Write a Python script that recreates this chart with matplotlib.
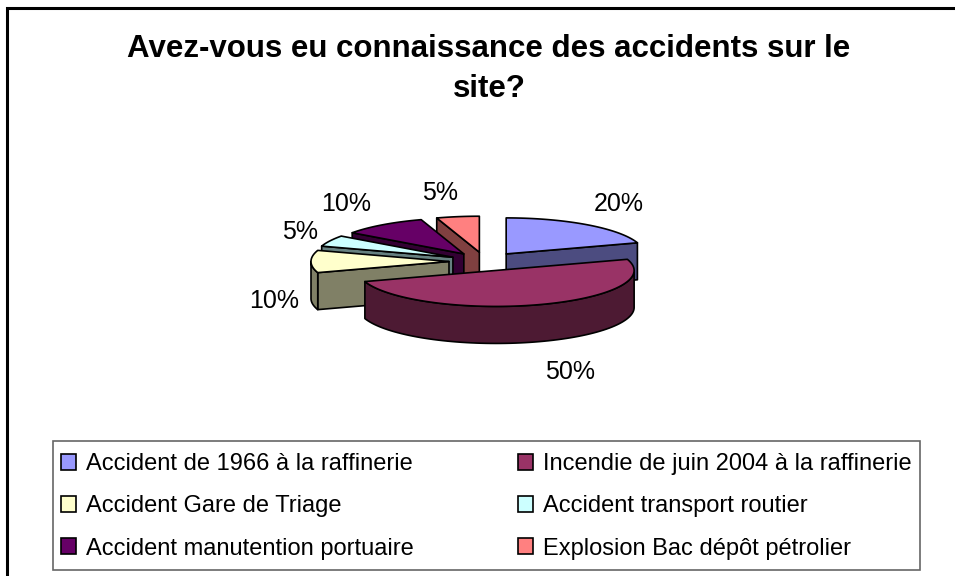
import numpy as np
import matplotlib.pyplot as plt
from matplotlib.patches import Polygon, Patch, Rectangle

plt.rcParams['font.family'] = ['Liberation Sans', 'DejaVu Sans']

title = "Avez-vous eu connaissance des accidents sur le\nsite?"
labels = [
    "Accident de 1966 à la raffinerie",
    "Incendie de juin 2004 à la raffinerie",
    "Accident Gare de Triage",
    "Accident transport routier",
    "Accident manutention portuaire",
    "Explosion Bac dépôt pétrolier",
]
values = [20, 50, 10, 5, 10, 5]
top_colors = ['#9999FF', '#993366', '#FFFFCC', '#CCFFFF', '#660066', '#FF8080']
side_colors = ['#4C4C80', '#4D1A33', '#808066', '#668080', '#330033', '#804040']

# pie geometry in pixels
CX, CY = 485, 261.5
RX, RY = 138, 36
EXPLODE = 36
DEPTH = 37
GAP = 12


def arc(cx, cy, a0, a1, n=80):
    t = np.radians(np.linspace(a0, a1, n))
    return np.column_stack([cx + RX * np.cos(t), cy - RY * np.sin(t)])


def edge(cx, cy, ang):
    t = np.radians(ang)
    return cx + RX * np.cos(t), cy - RY * np.sin(t)


fig = plt.figure(figsize=(9.55, 5.76), dpi=100)
ax = fig.add_axes([0, 0, 1, 1])
ax.set_xlim(0, 955)
ax.set_ylim(576, 0)
ax.axis('off')

fracs = np.array(values) / sum(values)
ends = 90 - 360 * np.cumsum(fracs)
starts = ends + 360 * fracs
mids = (starts + ends) / 2
order = np.argsort(-np.sin(np.radians(mids)), kind='stable')

for z, i in enumerate(order):
    t1, t2, m = starts[i], ends[i], mids[i]
    c, s = np.cos(np.radians(m)), np.sin(np.radians(m))
    px, py = CX + EXPLODE * c, CY - EXPLODE * RY / RX * s

    faces = []
    for ang, vis in ((t1, np.cos(np.radians(t1)) < -1e-6),
                     (t2, np.cos(np.radians(t2)) > 1e-6)):
        if vis:
            ex, ey = edge(px, py, ang)
            faces.append([(px, py), (ex, ey), (ex, ey + DEPTH), (px, py + DEPTH)])
    lo, hi = max(t2, -180), min(t1, 0)
    if hi > lo:
        top = arc(px, py, lo, hi)
        faces.append(np.vstack([top, top[::-1] + [0, DEPTH]]))
    for f in faces:
        ax.add_patch(Polygon(f, closed=True, fc=side_colors[i], ec='black',
                             lw=1.2, joinstyle='round', zorder=2 + 2 * z))
    top = np.vstack([[px, py], arc(px, py, t2, t1)])
    ax.add_patch(Polygon(top, closed=True, fc=top_colors[i], ec='black',
                         lw=1.2, joinstyle='round', zorder=3 + 2 * z))

    # percentage label, placed outside the slice
    ex, ey = edge(px, py, m)
    if c > 0.1:
        ha, lx = 'left', ex + 0.5 * GAP * (abs(c) > 0.3)
    elif c < -0.1:
        ha, lx = 'right', ex - GAP * (abs(c) > 0.3)
    else:
        ha, lx = 'center', ex
    if s > 0.6:
        va, ly = 'bottom', ey - GAP + 15 * (1 - s)
    elif s < -0.6:
        va, ly = 'top', ey + DEPTH + GAP + 6
    else:
        va, ly = 'center', ey + DEPTH + 2 - 105 * s
    ax.text(lx, ly, f"{fracs[i] * 100:.0f}%", ha=ha, va=va, fontsize=18, zorder=20)

ax.text(489, 34, title, ha='center', va='top', fontsize=22.5,
        fontweight='bold', linespacing=1.42)

# outer chart frame
fig.patches.append(Rectangle((7 / 955, -0.1), 1.1, 1 - 8 / 576 + 0.1,
                             transform=fig.transFigure, fill=False,
                             ec='black', lw=2.2))

# legend frame and two legend columns (row-major order like the original)
ax.add_patch(Rectangle((53, 441), 867, 129, fill=False, ec='#666666', lw=1.2, zorder=30))
handles = [Patch(fc=col, ec='black', lw=1.2) for col in top_colors]
for col, x0 in ((0, 61), (1, 518)):
    items = list(range(col, len(labels), 2))
    fig.legend([handles[k] for k in items], [labels[k] for k in items],
               loc='upper left', bbox_to_anchor=(x0 / 955, 1 - 453 / 576),
               fontsize=17, frameon=False, borderpad=0, borderaxespad=0,
               handlelength=0.65, handleheight=0.65, handletextpad=0.4,
               labelspacing=0.86)

fig.savefig('out.png', dpi=100)
